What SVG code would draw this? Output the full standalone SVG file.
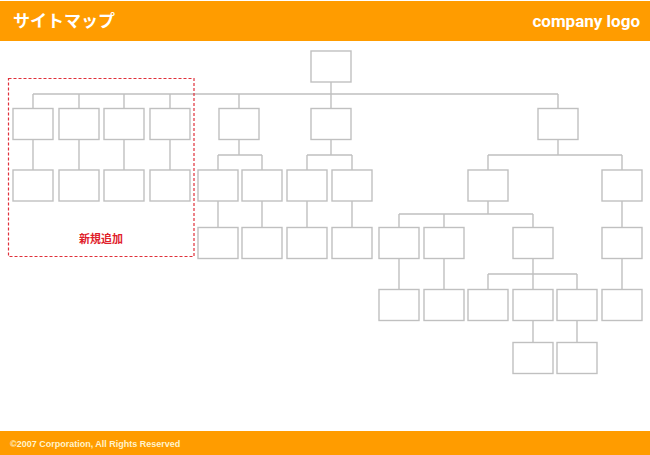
<svg xmlns="http://www.w3.org/2000/svg" width="650" height="455" viewBox="0 0 650 455">
<style>
.box{fill:#fff;stroke:#c0c0c0;stroke-width:1.4}
.ln{fill:none;stroke:#c0c0c0;stroke-width:1.4}
.hdr{font-weight:bold;fill:#fff}
</style>
<rect x="0" y="0" width="650" height="455" fill="#fff"/>
<g id="header">
<rect x="0" y="1" width="650" height="40" fill="#ff9c00"/>
<text class="hdr" x="13" y="27" font-size="17" style="font-family:'Noto Sans CJK JP','Liberation Sans',sans-serif">サイトマップ</text>
<text class="hdr" x="640" y="27" font-size="17" text-anchor="end" style="font-family:Roboto,'Liberation Sans',sans-serif">company logo</text>
</g>
<g id="footer">
<rect x="0" y="431" width="650" height="24" fill="#ff9c00"/>
<text x="10" y="447" font-size="9" font-weight="bold" fill="#fff3cc" style="font-family:'Liberation Sans',sans-serif">©2007 Corporation, All Rights Reserved</text>
</g>
<g id="connectors">
<path class="ln" d="M331 82V108.5M33 94H558M33 94V108.5M79 94V108.5M124 94V108.5M170 94V108.5M239 94V108.5M558 94V108.5"/>
<path class="ln" d="M33 139.5V170M79 139.5V170M124 139.5V170M170 139.5V170"/>
<path class="ln" d="M239 139.5V155M218 155H262M218 155V170M262 155V170"/>
<path class="ln" d="M331 139.5V155M307 155H352M307 155V170M352 155V170"/>
<path class="ln" d="M558 139.5V155M488 155H622M488 155V170M622 155V170"/>
<path class="ln" d="M218 201V227.5M262 201V227.5M307 201V227.5M352 201V227.5M622 201V227.5"/>
<path class="ln" d="M488 201V214M399 214H533M399 214V227.5M444 214V227.5M533 214V227.5"/>
<path class="ln" d="M399 258.5V289.5M444 258.5V289.5M622 258.5V289.5"/>
<path class="ln" d="M533 258.5V274M488 274H577M488 274V289.5M533 274V289.5M577 274V289.5"/>
<path class="ln" d="M533 320V342.5M577 320V342.5"/>
</g>
<g id="n-root"><rect class="box" x="311" y="51" width="40" height="31"/></g>
<g id="n-l1-1"><rect class="box" x="13" y="108.5" width="40" height="31"/></g>
<g id="n-l1-2"><rect class="box" x="59" y="108.5" width="40" height="31"/></g>
<g id="n-l1-3"><rect class="box" x="104" y="108.5" width="40" height="31"/></g>
<g id="n-l1-4"><rect class="box" x="150" y="108.5" width="40" height="31"/></g>
<g id="n-l1-5"><rect class="box" x="219" y="108.5" width="40" height="31"/></g>
<g id="n-l1-6"><rect class="box" x="311" y="108.5" width="40" height="31"/></g>
<g id="n-l1-7"><rect class="box" x="538" y="108.5" width="40" height="31"/></g>
<g id="n-l2-1"><rect class="box" x="13" y="170" width="40" height="31"/></g>
<g id="n-l2-2"><rect class="box" x="59" y="170" width="40" height="31"/></g>
<g id="n-l2-3"><rect class="box" x="104" y="170" width="40" height="31"/></g>
<g id="n-l2-4"><rect class="box" x="150" y="170" width="40" height="31"/></g>
<g id="n-l2-5"><rect class="box" x="198" y="170" width="40" height="31"/></g>
<g id="n-l2-6"><rect class="box" x="242" y="170" width="40" height="31"/></g>
<g id="n-l2-7"><rect class="box" x="287" y="170" width="40" height="31"/></g>
<g id="n-l2-8"><rect class="box" x="332" y="170" width="40" height="31"/></g>
<g id="n-l2-9"><rect class="box" x="468" y="170" width="40" height="31"/></g>
<g id="n-l2-10"><rect class="box" x="602" y="170" width="40" height="31"/></g>
<g id="n-l3-1"><rect class="box" x="198" y="227.5" width="40" height="31"/></g>
<g id="n-l3-2"><rect class="box" x="242" y="227.5" width="40" height="31"/></g>
<g id="n-l3-3"><rect class="box" x="287" y="227.5" width="40" height="31"/></g>
<g id="n-l3-4"><rect class="box" x="332" y="227.5" width="40" height="31"/></g>
<g id="n-l3-5"><rect class="box" x="379" y="227.5" width="40" height="31"/></g>
<g id="n-l3-6"><rect class="box" x="424" y="227.5" width="40" height="31"/></g>
<g id="n-l3-7"><rect class="box" x="513" y="227.5" width="40" height="31"/></g>
<g id="n-l3-8"><rect class="box" x="602" y="227.5" width="40" height="31"/></g>
<g id="n-l4-1"><rect class="box" x="379" y="289.5" width="40" height="31"/></g>
<g id="n-l4-2"><rect class="box" x="424" y="289.5" width="40" height="31"/></g>
<g id="n-l4-3"><rect class="box" x="468" y="289.5" width="40" height="31"/></g>
<g id="n-l4-4"><rect class="box" x="513" y="289.5" width="40" height="31"/></g>
<g id="n-l4-5"><rect class="box" x="557" y="289.5" width="40" height="31"/></g>
<g id="n-l4-6"><rect class="box" x="602" y="289.5" width="40" height="31"/></g>
<g id="n-l5-1"><rect class="box" x="513" y="342.5" width="40" height="31"/></g>
<g id="n-l5-2"><rect class="box" x="557" y="342.5" width="40" height="31"/></g>
<g id="new-area">
<rect x="8.5" y="78.5" width="185.5" height="178" fill="none" stroke="#e0303a" stroke-width="1.2" stroke-dasharray="3,2"/>
<text x="101" y="243" font-size="11" font-weight="bold" fill="#e0202a" text-anchor="middle" style="font-family:'Noto Sans CJK JP',sans-serif">新規追加</text>
</g>
</svg>
